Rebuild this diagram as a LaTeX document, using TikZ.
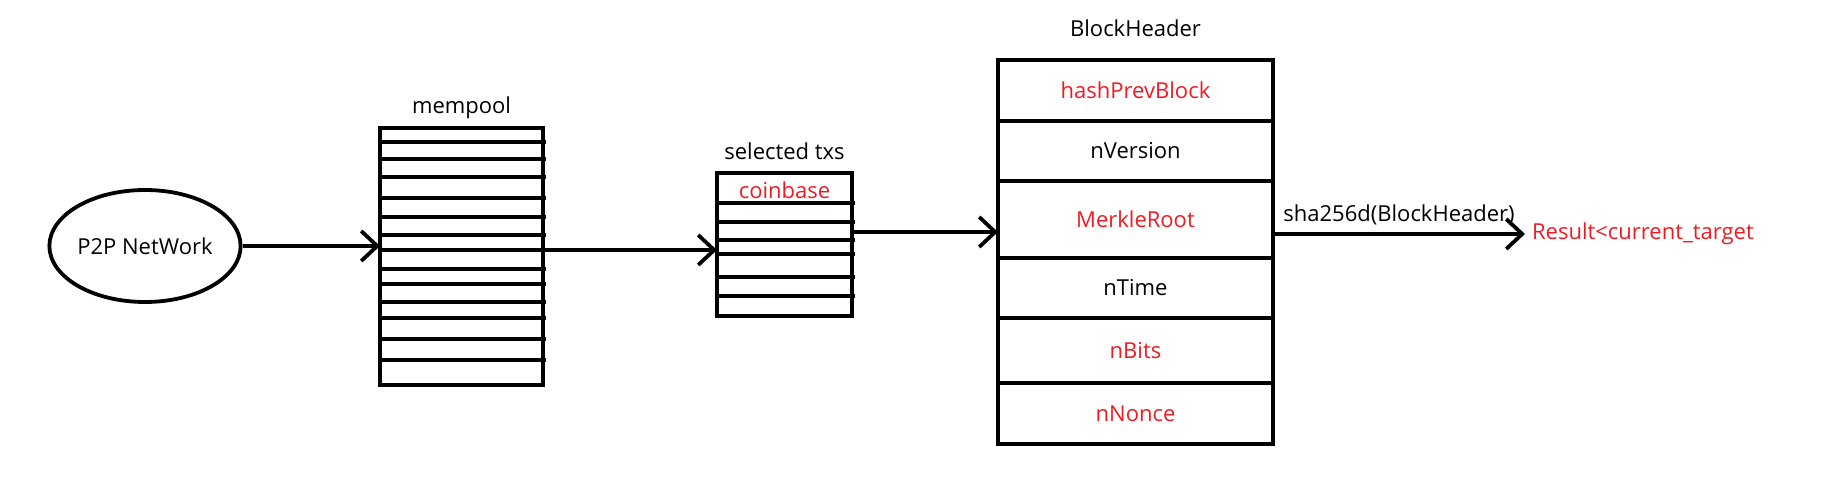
\documentclass[tikz,border=0pt]{standalone}
\usepackage{fontspec}
\setmainfont{Open Sans}
\usetikzlibrary{shapes.geometric, arrows.meta, positioning}
\definecolor{paintred}{RGB}{237, 28, 36}

\begin{document}
\begin{tikzpicture}[
    x=0.5pt, y=-0.5pt,
    font=\fontsize{11}{13}\selectfont,
    thickline/.style={line width=1.9pt},
    box/.style={rectangle, draw, line width=1.9pt, outer sep=0pt},
    cell/.style={rectangle, draw, line width=1.9pt, outer sep=0pt, inner sep=0pt, minimum width=137.5pt},
    redtext/.style={text=paintred},
    arrow/.style={-{Straight Barb[length=8pt, width=15pt]}, line width=1.9pt}
  ]
    \useasboundingbox (0,0) rectangle (1826,480);

    \node[ellipse, draw, line width=1.9pt, minimum width=92pt, minimum height=56pt, inner sep=0pt] (net) at (145,246) {P2P NetWork};

    \node[box, minimum width=81.5pt, minimum height=128.5pt] (pool) at (461.5,256.5) {};
    \node[above=1pt of pool] (poollabel) {mempool};
    \foreach \y in {142,159,177,198,217,235,250,269,284,302,318,339,360}
      \draw[thickline] (pool.west |- 0,\y) -- +(166,0);

    \node[box, minimum width=67.5pt, minimum height=71.5pt] (sel) at (784.5,244.5) {};
    \node[above=3pt of sel] (sellabel) {selected txs};
    \node[redtext, below=1pt of sel.north] (coinbase) {coinbase};
    \foreach \y in {203,222,240,254,277,296}
      \draw[thickline] (sel.west |- 0,\y) -- +(138,0);

    \node[cell, redtext, minimum height=30.5pt] (hash) at (1135.5,90.5) {hashPrevBlock};
    \node[cell, minimum height=30pt, below=0pt of hash] (version) {nVersion};
    \node[cell, redtext, minimum height=38.5pt, below=0pt of version] (merkle) {MerkleRoot};
    \node[cell, minimum height=30pt, below=0pt of merkle] (time) {nTime};
    \node[cell, redtext, minimum height=32.5pt, below=0pt of time] (bits) {nBits};
    \node[cell, redtext, minimum height=30.5pt, below=0pt of bits] (nonce) {nNonce};
    \node[above=8pt of hash] (hdrlabel) {BlockHeader};

    \node[redtext, anchor=west] (res) at (1525,234) {Result<current\_target};

    \coordinate (poolout) at ([yshift=3.25pt]pool.east);
    \coordinate (selout) at ([yshift=6.25pt]sel.east);

    \draw[arrow] (net.east) -- (net.east -| pool.west);
    \draw[arrow] (poolout) -- (poolout -| sel.west);
    \draw[arrow] (selout) -- (selout -| merkle.west);
    \draw[arrow] (merkle.east |- res.west) -- node[above] {sha256d(BlockHeader)} (res.west);
  \end{tikzpicture}
\end{document}
